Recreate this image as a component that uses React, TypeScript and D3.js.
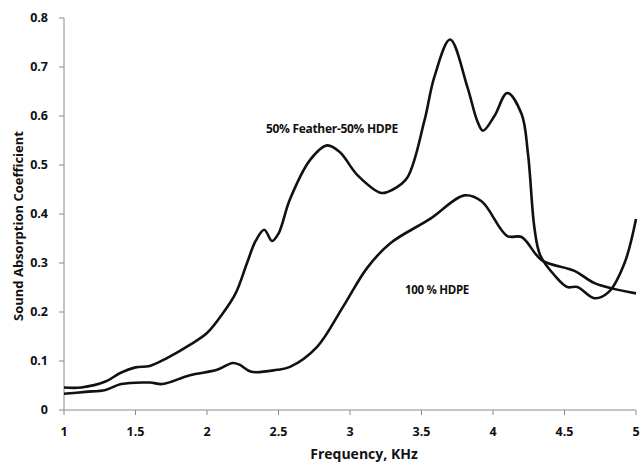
import React from "react";
import * as d3 from "d3";

const featherX = [1.0, 1.12, 1.29, 1.39, 1.5, 1.6, 1.72, 1.88, 2.0, 2.11, 2.2, 2.28, 2.34, 2.4, 2.455, 2.5, 2.58, 2.72, 2.84, 2.93, 3.05, 3.22, 3.3, 3.4, 3.52, 3.59, 3.7, 3.82, 3.89, 3.93, 4.01, 4.1, 4.2, 4.245, 4.29, 4.33, 4.43, 4.52, 4.59, 4.71, 4.81, 4.92, 5.0];
const featherY = [0.046, 0.046, 0.058, 0.075, 0.087, 0.09, 0.106, 0.133, 0.157, 0.197, 0.238, 0.3, 0.345, 0.368, 0.345, 0.36, 0.43, 0.51, 0.54, 0.526, 0.48, 0.443, 0.45, 0.474, 0.59, 0.68, 0.756, 0.66, 0.59, 0.57, 0.6, 0.647, 0.604, 0.522, 0.371, 0.316, 0.275, 0.251, 0.251, 0.228, 0.241, 0.3, 0.39];

const hdpeX = [1.0, 1.15, 1.29, 1.4, 1.6, 1.69, 1.88, 2.07, 2.18, 2.23, 2.31, 2.49, 2.58, 2.77, 2.95, 3.12, 3.28, 3.56, 3.8, 3.92, 4.1, 4.2, 4.34, 4.57, 4.71, 5.0];
const hdpeY = [0.033, 0.037, 0.041, 0.053, 0.056, 0.053, 0.071, 0.082, 0.096, 0.092, 0.078, 0.082, 0.088, 0.129, 0.21, 0.29, 0.34, 0.39, 0.438, 0.426, 0.355, 0.353, 0.306, 0.284, 0.259, 0.238];

const xTicks = [1, 1.5, 2, 2.5, 3, 3.5, 4, 4.5, 5];
const yTicks = [0, 0.1, 0.2, 0.3, 0.4, 0.5, 0.6, 0.7, 0.8];

const seriesLabels = ["50% Feather-50% HDPE", "100 % HDPE"];

export default function App() {
  const W = 642, H = 465;
  const x = d3.scaleLinear().domain([1, 5]).range([64, 636]);
  const y = d3.scaleLinear().domain([0, 0.8]).range([410, 18]);
  const mk = (xs: number[], ys: number[]) =>
    d3.line<number>()
      .x((_, i) => x(xs[i]))
      .y((_, i) => y(ys[i]))
      .curve(d3.curveCatmullRom.alpha(0.5))(xs) || "";
  const font = "'Open Sans', 'DejaVu Sans', sans-serif";
  const axisColor = "#8a8a8a";
  return (
    <svg width={W} height={H} style={{ position: "absolute", left: 0, top: 0, background: "#fff" }}>
      <line x1={x(1)} x2={x(1)} y1={y(0.8)} y2={y(0)} stroke={axisColor} strokeWidth={1} />
      <line x1={x(1)} x2={x(5)} y1={y(0)} y2={y(0)} stroke={axisColor} strokeWidth={1} />
      {yTicks.map((t) => (
        <g key={"y" + t}>
          <line x1={x(1) - 5} x2={x(1)} y1={y(t)} y2={y(t)} stroke={axisColor} />
          <text x={48} y={y(t)} dy="0.35em" textAnchor="end" fontFamily={font} fontWeight="bold" fontSize={12.5} fill="#111">
            {t === 0 ? "0" : t.toFixed(1)}
          </text>
        </g>
      ))}
      {xTicks.map((t) => (
        <g key={"x" + t}>
          <line x1={x(t)} x2={x(t)} y1={y(0)} y2={y(0) + 5} stroke={axisColor} />
          <text x={x(t)} y={436} textAnchor="middle" fontFamily={font} fontWeight="bold" fontSize={12.5} fill="#111">
            {String(t)}
          </text>
        </g>
      ))}
      <text x={364} y={459} textAnchor="middle" fontFamily={font} fontWeight="bold" fontSize={14} fill="#111">
        Frequency, KHz
      </text>
      <text transform="translate(23,226) rotate(-90)" textAnchor="middle" fontFamily={font} fontWeight="bold" fontSize={13} fill="#111">
        Sound Absorption Coefficient
      </text>
      <path d={mk(featherX, featherY)} fill="none" stroke="#111" strokeWidth={2.6} strokeLinejoin="round" />
      <path d={mk(hdpeX, hdpeY)} fill="none" stroke="#111" strokeWidth={2.6} strokeLinejoin="round" />
      <text x={332} y={133} textAnchor="middle" fontFamily={font} fontWeight="bold" fontSize={12} fill="#111" letterSpacing={-0.3}>
        {seriesLabels[0]}
      </text>
      <text x={437} y={294} textAnchor="middle" fontFamily={font} fontWeight="bold" fontSize={11.5} fill="#111" letterSpacing={-0.3}>
        {seriesLabels[1]}
      </text>
    </svg>
  );
}
